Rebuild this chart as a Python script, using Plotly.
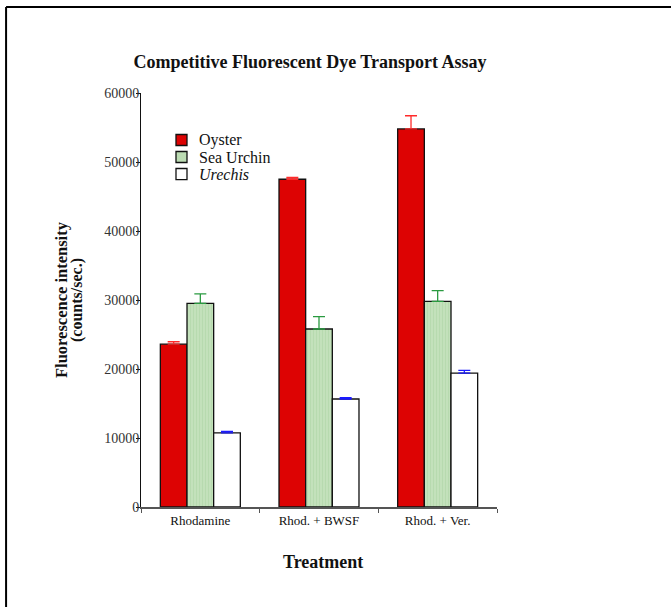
"""Competitive fluorescent dye transport assay bar chart"""
import plotly.graph_objects as go

treatments = ["Rhodamine", "Rhod. + BWSF", "Rhod. + Ver."]

oyster = [23600, 47500, 54800]
oyster_se = [350, 250, 1900]

sea_urchin = [29500, 25800, 29800]
sea_urchin_se = [1400, 1800, 1550]

urechis = [10750, 15650, 19400]
urechis_se = [200, 200, 400]

y_ticks = [0, 10000, 20000, 30000, 40000, 50000, 60000]

FONT = "Liberation Serif, Times New Roman, serif"

OYSTER_RED = "#dd0303"
URCHIN_GREEN = "#bcdcb3"

fig = go.Figure()


def add_series(name, values, errors, fill, err_color, pattern=None):
    fig.add_trace(go.Bar(
        x=treatments,
        y=values,
        name=name,
        marker=dict(color=fill, line=dict(color="#111111", width=1.3),
                    pattern=pattern),
        error_y=dict(type="data", array=errors,
                     arrayminus=[0] * len(errors), symmetric=False,
                     color=err_color, thickness=1.3, width=6),
    ))


add_series("Oyster", oyster, oyster_se, OYSTER_RED, "#ff2a2a")
add_series("Sea Urchin", sea_urchin, sea_urchin_se, URCHIN_GREEN, "#2a9a40",
           pattern=dict(shape="|", size=3, fgcolor="#a9d09f",
                        bgcolor="#c3e1bb", solidity=0.3))
add_series("<i>Urechis</i>", urechis, urechis_se, "#ffffff", "#1a1aff")

fig.update_layout(
    width=671,
    height=607,
    margin=dict(l=141, r=174, t=93, b=100),
    paper_bgcolor="white",
    plot_bgcolor="white",
    font=dict(family=FONT, color="#111111", size=13),
    barmode="group",
    bargap=0.326,
    bargroupgap=0,
    title=dict(
        text="<b>Competitive Fluorescent Dye Transport Assay</b>",
        font=dict(size=18, family=FONT),
        x=0.462, xanchor="center", y=0.898, yanchor="middle",
    ),
    showlegend=False,
    xaxis=dict(
        showline=True, linecolor="#555555", linewidth=2,
        ticks="outside", ticklen=4, tickcolor="#555555",
        tickson="boundaries",
        showgrid=False, zeroline=False,
        tickfont=dict(size=13, family=FONT),
    ),
    yaxis=dict(
        range=[0, 60000],
        tickvals=y_ticks,
        ticktext=[str(v) for v in y_ticks],
        showline=True, linecolor="#111111", linewidth=1,
        ticks="outside", ticklen=4, tickcolor="#111111",
        ticklabelstandoff=-6,
        showgrid=False, zeroline=False,
        tickfont=dict(size=14, family=FONT, color="#333333"),
    ),
)

# legend drawn by hand, tighter than plotly's own
legend_items = [("Oyster", OYSTER_RED), ("Sea Urchin", URCHIN_GREEN),
                ("<i>Urechis</i>", "#ffffff")]
for i, (label, color) in enumerate(legend_items):
    yc = 0.8865 - i * 0.0411
    fig.add_shape(type="rect", xref="paper", yref="paper",
                  x0=0.0983, x1=0.1292, y0=yc - 0.0133, y1=yc + 0.0133,
                  fillcolor=color, line=dict(color="#111111", width=1.3))
    fig.add_annotation(text=label, xref="paper", yref="paper",
                       x=0.158, y=yc, xanchor="left", yanchor="middle",
                       showarrow=False, font=dict(size=16, family=FONT))

# axis titles
fig.add_annotation(
    text="<b>Fluorescence intensity</b>",
    xref="paper", yref="paper", x=-0.2247, y=0.5,
    xanchor="center", yanchor="middle", textangle=-90,
    showarrow=False, font=dict(size=16.5, family=FONT),
)
fig.add_annotation(
    text="<b>(counts/sec.)</b>",
    xref="paper", yref="paper", x=-0.1798, y=0.5,
    xanchor="center", yanchor="middle", textangle=-90,
    showarrow=False, font=dict(size=16, family=FONT),
)
fig.add_annotation(
    text="<b>Treatment</b>",
    xref="paper", yref="paper", x=0.511, y=-0.132,
    xanchor="center", yanchor="middle",
    showarrow=False, font=dict(size=18, family=FONT),
)

# frame: only the left and top edges show in the picture
fig.add_shape(type="line", xref="paper", yref="paper",
              x0=-0.379, x1=-0.379, y0=-0.3, y1=1.208,
              line=dict(color="black", width=2), layer="below")
fig.add_shape(type="line", xref="paper", yref="paper",
              x0=-0.379, x1=1.5, y0=1.208, y1=1.208,
              line=dict(color="black", width=2), layer="below")

fig.write_html("out.html", config={"displayModeBar": False},
               post_script="document.body.style.margin='0px';")
